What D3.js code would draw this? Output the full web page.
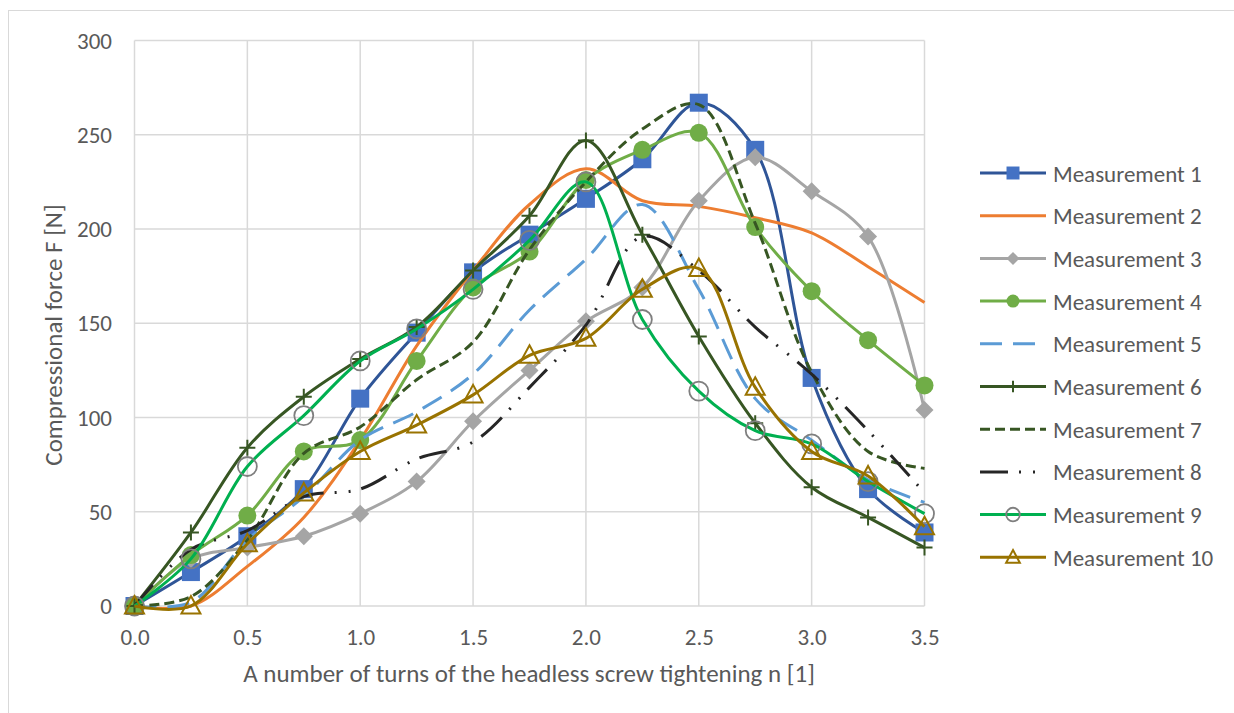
<!DOCTYPE html>
<html>
<head>
<meta charset="utf-8">
<script src="https://cdn.jsdelivr.net/npm/d3@7"></script>
<style>
  body { margin: 0; background: #fff; }
  text { font-family: Carlito, Calibri, Lato, sans-serif; fill: #595959; }
</style>
</head>
<body>
<div id="chart"></div>
<script>
// turns of the screw
const turns = [0, 0.25, 0.5, 0.75, 1.0, 1.25, 1.5, 1.75, 2.0, 2.25, 2.5, 2.75, 3.0, 3.25, 3.5];

const m1  = [0, 18, 37, 62, 110, 145, 177, 197, 216, 237, 267, 242, 121, 62, 39];
const m2  = [0, 0, 21, 47, 88, 138, 178, 213, 232, 215, 212, 206, 198, 180, 161];
const m3  = [0, 25, 31, 37, 49, 66, 98, 125, 151, 169, 215, 238, 220, 196, 104];
const m4  = [0, 27, 48, 82, 88, 130, 169, 188, 226, 242, 251, 201, 167, 141, 117];
const m5  = [0, 2, 35, 58, 88, 103, 123, 157, 184, 213, 168, 110, 88, 67, 55];
const m6  = [0, 39, 84, 111, 131, 148, 178, 207, 247, 197, 143, 97, 63, 47, 31];
const m7  = [0, 5, 35, 81, 95, 120, 140, 189, 225, 253, 266, 203, 124, 82, 73];
const m8  = [0, 30, 40, 58, 62, 78, 87, 116, 149, 196, 178, 148, 123, 93, 60];
const m9  = [0, 25, 74, 101, 130, 147, 168, 194, 225, 152, 114, 93, 86, 66, 49];
const m10 = [0, 0, 33, 60, 82, 96, 112, 133, 142, 168, 179, 116, 82, 69, 42];

const seriesNames = ["Measurement 1", "Measurement 2", "Measurement 3", "Measurement 4", "Measurement 5",
                     "Measurement 6", "Measurement 7", "Measurement 8", "Measurement 9", "Measurement 10"];
const seriesValues = [m1, m2, m3, m4, m5, m6, m7, m8, m9, m10];

const xTicks = [0, 0.5, 1.0, 1.5, 2.0, 2.5, 3.0, 3.5];
const yTicks = [0, 50, 100, 150, 200, 250, 300];

// look of each series (line colour, dash, marker)
const styles = [
    {line: "#2f5597", dash: null, marker: "square", fill: "#4472c4", stroke: "#4472c4"},
    {line: "#ed7d31", dash: null, marker: null},
    {line: "#a5a5a5", dash: null, marker: "diamond", fill: "#a5a5a5", stroke: "#a5a5a5"},
    {line: "#70ad47", dash: null, marker: "circle", fill: "#70ad47", stroke: "#70ad47"},
    {line: "#5b9bd5", dash: "22,11", marker: null},
    {line: "#375623", dash: null, marker: "plus", fill: "none", stroke: "#375623"},
    {line: "#375623", dash: "10,5", marker: null},
    {line: "#262626", dash: "28,11,2,12,2,11", marker: null},
    {line: "#00b050", dash: null, marker: "ring", fill: "none", stroke: "#7f7f7f"},
    {line: "#997300", dash: null, marker: "triangle", fill: "none", stroke: "#997300"}
];

const width = 1234;
const height = 713;

const svg = d3.select("#chart")
    .append("svg")
    .attr("width", width)
    .attr("height", height);

// outer chart border
svg.append("rect")
    .attr("x", 8.5).attr("y", 10.5)
    .attr("width", 1240).attr("height", 720)
    .attr("fill", "none")
    .attr("stroke", "#d9d9d9");

const x = d3.scaleLinear().domain([0, 3.5]).range([134.5, 924.5]);
const y = d3.scaleLinear().domain([0, 300]).range([606, 40.5]);

// grid
const grid = svg.append("g");
grid.selectAll(".vg")
    .data(xTicks)
    .join("line")
    .attr("x1", d => x(d)).attr("x2", d => x(d))
    .attr("y1", y(300)).attr("y2", y(0))
    .attr("stroke", "#d9d9d9").attr("stroke-width", 1.5);
grid.selectAll(".hg")
    .data(yTicks)
    .join("line")
    .attr("x1", x(0)).attr("x2", x(3.5))
    .attr("y1", d => y(d)).attr("y2", d => y(d))
    .attr("stroke", "#d9d9d9").attr("stroke-width", 1.5);

// axes, labels only
const yAxis = svg.append("g")
    .attr("transform", "translate(112,0)")
    .call(d3.axisLeft(y).tickValues(yTicks).tickSize(0).tickFormat(d3.format("d")));
yAxis.select(".domain").remove();
yAxis.selectAll("text").attr("font-size", 23).attr("x", 0).attr("dy", "0.33em")
    .style("font-family", "Carlito, Calibri, Lato, sans-serif").attr("fill", "#595959");

const xAxis = svg.append("g")
    .attr("transform", `translate(0,${y(0)})`)
    .call(d3.axisBottom(x).tickValues(xTicks).tickSize(0).tickFormat(d3.format(".1f")));
xAxis.select(".domain").remove();
xAxis.selectAll("text").attr("font-size", 23).attr("y", 39).attr("dy", "0")
    .style("font-family", "Carlito, Calibri, Lato, sans-serif").attr("fill", "#595959");

svg.append("text")
    .attr("x", 529).attr("y", 682)
    .attr("text-anchor", "middle")
    .attr("font-size", 25)
    .text("A number of turns of the headless screw tightening n [1]");

svg.append("text")
    .attr("transform", "translate(62,335) rotate(-90)")
    .attr("text-anchor", "middle")
    .attr("font-size", 25)
    .text("Compressional force F [N]");

// marker drawer, s = size factor
const drawMarker = (sel, kind, st, s) => {
    if (kind === "square") {
        sel.append("rect").attr("x", -9 * s).attr("y", -9 * s).attr("width", 18 * s).attr("height", 18 * s)
            .attr("fill", st.fill);
    } else if (kind === "diamond") {
        sel.append("path").attr("d", `M0,${-9 * s}L${9 * s},0L0,${9 * s}L${-9 * s},0Z`).attr("fill", st.fill);
    } else if (kind === "circle") {
        sel.append("circle").attr("r", 9 * s).attr("fill", st.fill);
    } else if (kind === "plus") {
        sel.append("path").attr("d", `M${-8 * s},0H${8 * s}M0,${-8 * s}V${8 * s}`).attr("stroke", st.stroke)
            .attr("stroke-width", 2).attr("fill", "none");
    } else if (kind === "ring") {
        sel.append("circle").attr("r", 9.5 * s).attr("fill", "none")
            .attr("stroke", st.stroke).attr("stroke-width", 1.8);
    } else if (kind === "triangle") {
        sel.append("path").attr("d", `M0,${-10 * s}L${9.5 * s},${7.5 * s}H${-9.5 * s}Z`).attr("fill", "none")
            .attr("stroke", st.stroke).attr("stroke-width", 2);
    }
};

const lineGen = d3.line()
    .x((d, i) => x(turns[i]))
    .y(d => y(d))
    .curve(d3.curveCatmullRom.alpha(0.5));

const plot = svg.append("g");
seriesValues.forEach((vals, k) => {
    const st = styles[k];
    const g = plot.append("g");
    g.append("path")
        .attr("d", lineGen(vals))
        .attr("fill", "none")
        .attr("stroke", st.line)
        .attr("stroke-width", 3)
        .attr("stroke-dasharray", st.dash)
        .attr("stroke-linejoin", "round");
    if (st.marker) {
        g.selectAll(".mk")
            .data(vals)
            .join("g")
            .attr("transform", (d, i) => `translate(${x(turns[i])},${y(d)})`)
            .each(function () { drawMarker(d3.select(this), st.marker, st, 1); });
    }
});

// legend
const legend = svg.append("g");
seriesNames.forEach((name, k) => {
    const st = styles[k];
    const ly = 173 + k * 42.7;
    const row = legend.append("g").attr("transform", `translate(0,${ly})`);
    row.append("line")
        .attr("x1", 980).attr("x2", 1046)
        .attr("stroke", st.line)
        .attr("stroke-width", 3)
        .attr("stroke-dasharray", st.dash);
    if (st.marker) {
        const mg = row.append("g").attr("transform", "translate(1013,0)");
        drawMarker(mg, st.marker, st, 0.72);
    }
    row.append("text")
        .attr("x", 1053).attr("y", 8.5)
        .attr("font-size", 23)
        .text(name);
});
</script>
</body>
</html>
